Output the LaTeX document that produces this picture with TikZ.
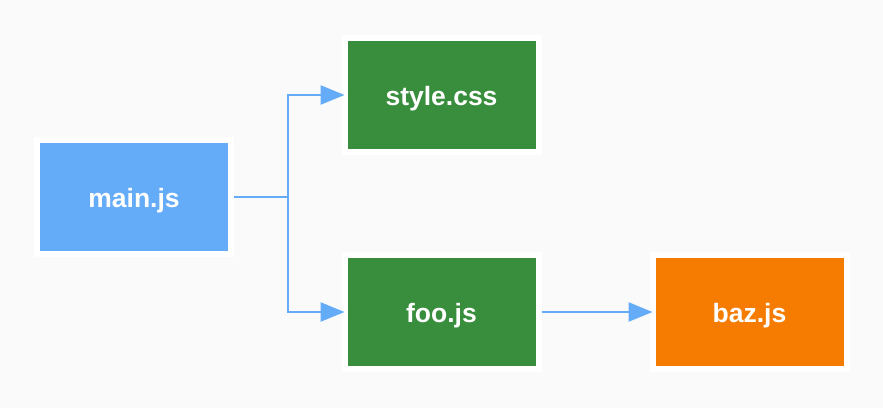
\documentclass[tikz,border=0pt]{standalone}
\usepackage{fontspec}
\setmainfont{Liberation Sans}
\usetikzlibrary{arrows.meta}
\definecolor{bgcol}{HTML}{FAFAFA}
\definecolor{jsblue}{HTML}{64ABF8}
\definecolor{cssgreen}{HTML}{388E3C}
\definecolor{bazorange}{HTML}{F57C00}
\begin{document}
\begin{tikzpicture}[x=1pt,y=-1pt,
    file/.style={draw=white,line width=6pt,minimum width=194pt,minimum height=114pt,
        inner sep=0pt,outer sep=0pt,text height=20pt,text depth=0pt,text=white,
        font=\fontsize{26.5}{30}\selectfont\bfseries},
    dep/.style={draw=jsblue,line width=2.5pt,-{Triangle[length=24pt,width=19pt]}}]
    % background
    \fill[bgcol] (0,0) rectangle (883,408);
    \useasboundingbox (0,0) rectangle (883,408);
    % files
    \node[file,fill=jsblue]    (main)  at (134,197)   {main.js};
    \node[file,fill=cssgreen]  (style) at (441.5,95)  {style.css};
    \node[file,fill=cssgreen]  (foo)   at (441.5,312) {foo.js};
    \node[file,fill=bazorange] (baz)   at (749.5,312) {baz.js};
    % imports
    \coordinate (split) at (288,197);
    \draw[draw=jsblue,line width=2.5pt] ([xshift=3pt]main.east) -- (split);
    \draw[dep] (split) |- (style.west);
    \draw[dep] (split) |- (foo.west);
    \draw[dep] ([xshift=3pt]foo.east) -- (baz.west);
\end{tikzpicture}
\end{document}
